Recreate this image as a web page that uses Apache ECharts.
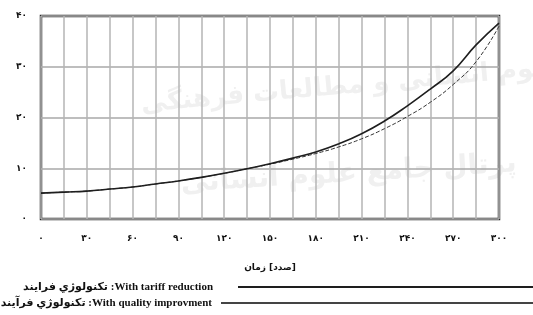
<!DOCTYPE html>
<html dir="ltr">
<head>
<meta charset="utf-8">
<script src="https://cdn.jsdelivr.net/npm/echarts@6/dist/echarts.min.js"></script>
<style>
    html, body { margin: 0; padding: 0; background: #fff; }
    #chart { width: 533px; height: 315px; }
</style>
</head>
<body>
<div id="chart"></div>
<script>
/************************    数据     ****************************/
var timeSteps = [0, 15, 30, 45, 60, 75, 90, 105, 120, 135, 150, 165, 180, 195, 210, 225, 240, 255, 270, 285, 300];

var tariffValues = [5.1, 5.3, 5.5, 5.9, 6.3, 6.9, 7.5, 8.2, 9.0, 9.9, 10.9, 12.0, 13.2, 14.8, 16.8, 19.3, 22.3, 25.6, 29.2, 34.3, 38.6];

var qualityValues = [5.1, 5.3, 5.5, 5.9, 6.3, 6.9, 7.5, 8.2, 9.0, 9.9, 10.8, 11.8, 12.9, 14.2, 15.8, 17.8, 20.2, 23.0, 26.5, 31.0, 38.0];

var xTickLabels = [0, 30, 60, 90, 120, 150, 180, 210, 240, 270, 300];
var yTickLabels = [0, 10, 20, 30, 40];

var seriesNames = ['With tariff reduction', 'With quality improvment'];
// 图例前面的波斯文
var legendPrefix = ['تكنولوژي فرايند', 'تكنولوژي فرآيند'];
var xAxisTitle = ['زمان', 'صدد'];

/************************    工具函数     ****************************/
// 阿拉伯数字 -> 波斯数字
function toPersian(v) {
    return String(v).replace(/\d/g, function (d) {
        return '۰۱۲۳۴۵۶۷۸۹'.charAt(+d);
    });
}

function pairs(xs, ys) {
    return xs.map(function (x, i) { return [x, ys[i]]; });
}

// 波斯文和英文分成两段富文本，各自排版，从左到右拼起来
function legendText(name) {
    var idx = seriesNames.indexOf(name);
    return '{t|' + legendPrefix[idx] + '}{t| :' + name + '}{g' + idx + '| }';
}

/************************    图表配置     ****************************/
var chart = echarts.init(document.getElementById('chart'));

var labelFont = '"DejaVu Sans", sans-serif';
var legendFont = '"Liberation Serif", "DejaVu Sans", serif';

var legendRich = {
    t: { fontFamily: legendFont, fontWeight: 'bold', fontSize: 11, color: '#111' },
    g0: { width: 20 },
    g1: { width: 4 }
};

var option = {
    backgroundColor: '#fff',
    animation: false,
    graphic: [
        /* 背景水印 */
        {
            type: 'text', left: 140, top: 42, rotation: 0.09, silent: true, z: -10,
            style: { text: 'پژوهشگاه علوم انسانی و مطالعات فرهنگی', fill: '#f0f0f0', font: 'bold 26px "DejaVu Sans"' }
        },
        {
            type: 'text', left: 180, top: 150, rotation: 0.06, silent: true, z: -10,
            style: { text: 'پرتال جامع علوم انسانی', fill: '#f0f0f0', font: 'bold 28px "DejaVu Sans"' }
        }
    ],
    grid: {
        left: 41,
        right: 34,
        top: 16,
        bottom: 96,
        show: true,
        borderColor: '#2a2a2a',
        borderWidth: 2.5,
        backgroundColor: 'transparent'
    },
    legend: [
        {
            data: [{ name: seriesNames[0], itemStyle: { color: '#1e1e1e' } }],
            right: 0,
            top: 281,
            padding: 0,
            align: 'right',
            icon: 'rect',
            itemWidth: 295,
            itemHeight: 2,
            formatter: legendText,
            textStyle: { rich: legendRich }
        },
        {
            data: [{ name: seriesNames[1], itemStyle: { color: '#444' } }],
            right: 0,
            top: 297,
            padding: 0,
            align: 'right',
            icon: 'rect',
            itemWidth: 312,
            itemHeight: 2,
            formatter: legendText,
            textStyle: { rich: legendRich }
        }
    ],
    xAxis: {
        type: 'value',
        min: 0,
        max: 300,
        interval: 15,
        name: '{n|' + xAxisTitle[0] + '}{n| [}{n|' + xAxisTitle[1] + '}{n|]}',
        nameLocation: 'middle',
        nameGap: 44,
        nameTextStyle: {
            rich: { n: { fontFamily: labelFont, fontWeight: 'bold', fontSize: 9, color: '#111' } }
        },
        axisLine: { show: false },
        axisTick: { show: false },
        splitLine: { show: true, lineStyle: { color: '#b4b4b4', width: 1.5 } },
        axisLabel: {
            margin: 15,
            fontFamily: labelFont,
            fontWeight: 'bold',
            fontSize: 9,
            color: '#111',
            formatter: function (v) {
                return xTickLabels.indexOf(v) >= 0 ? toPersian(v) : '';
            }
        }
    },
    yAxis: {
        type: 'value',
        min: 0,
        max: 40,
        interval: 10,
        axisLine: { show: false },
        axisTick: { show: false },
        splitLine: { show: true, lineStyle: { color: '#a8a8a8', width: 1.5 } },
        axisLabel: {
            margin: 14,
            fontFamily: labelFont,
            fontWeight: 'bold',
            fontSize: 9,
            color: '#111',
            formatter: function (v) {
                return yTickLabels.indexOf(v) >= 0 ? toPersian(v) : '';
            }
        }
    },
    series: [
        {
            name: seriesNames[0],
            type: 'line',
            smooth: true,
            symbol: 'none',
            data: pairs(timeSteps, tariffValues),
            lineStyle: { color: '#1e1e1e', width: 1.6 },
            itemStyle: { color: '#1e1e1e' },
            z: 3
        },
        {
            name: seriesNames[1],
            type: 'line',
            smooth: true,
            symbol: 'none',
            data: pairs(timeSteps, qualityValues),
            lineStyle: { color: '#333', width: 1, type: [4, 2] },
            itemStyle: { color: '#444' },
            z: 2
        }
    ]
};

chart.setOption(option);
</script>
</body>
</html>
